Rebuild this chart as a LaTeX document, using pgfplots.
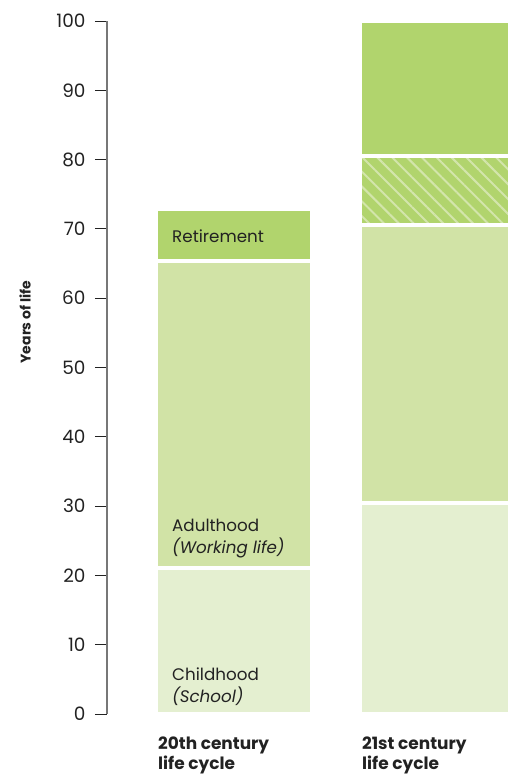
\documentclass[border=0pt]{standalone}
\usepackage{fontspec}
\setmainfont{Poppins}
\usepackage{pgfplots}
\pgfplotsset{compat=1.18}
\usetikzlibrary{patterns.meta}
\definecolor{child}{HTML}{E4EFD0}
\definecolor{adult}{HTML}{D1E3A6}
\definecolor{retire}{HTML}{B1D46D}
\definecolor{stripe}{HTML}{D3E5AB}
\definecolor{axisgray}{HTML}{777777}
\definecolor{txt}{HTML}{222222}
\begin{document}
\begin{tikzpicture}[x=1bp,y=1bp]
\path[use as bounding box] (0,0) rectangle (508,775);
\begin{axis}[
  at={(107bp,61bp)}, anchor=south west,
  scale only axis, width=401bp, height=693bp,
  xmin=107, xmax=508, ymin=0, ymax=100,
  clip=false,
  ybar stacked, bar width=156,
  axis x line=none,
  axis y line=left,
  y axis line style={-, axisgray, line width=1.5bp},
  ytick={0,10,...,100},
  xtick=\empty,
  tick align=outside,
  major tick length=12bp,
  ytick style={txt, line width=0.8bp},
  yticklabel style={font=\fontsize{18.5}{20}\selectfont, text=txt, xshift=-6bp},
  /pgf/number format/assume math mode=true,
]
\addplot[fill=child, draw=white, line width=4bp] coordinates {(234,21) (438,30.5)};
\addplot[fill=adult, draw=white, line width=4bp] coordinates {(234,44.3) (438,40)};
\addplot[fill=retire, draw=white, line width=4bp] coordinates {(234,7.5) (438,0)};
\addplot[preaction={fill=retire}, pattern={Lines[angle=-45, distance=10.5bp, line width=2bp]}, pattern color=stripe, draw=white, line width=4bp] coordinates {(234,0) (438,10)};
\addplot[fill=retire, draw=white, line width=4bp] coordinates {(234,0) (438,19.5)};

\coordinate (ret) at (axis cs:172,68.1);
\coordinate (adu) at (axis cs:172,26.4);
\coordinate (wor) at (axis cs:172,23.2);
\coordinate (chi) at (axis cs:172,4.9);
\coordinate (sch) at (axis cs:172,1.7);
\coordinate (xa) at (axis cs:158,0);
\coordinate (xb) at (axis cs:362,0);
\end{axis}
\begin{scope}[every node/.style={anchor=base west, inner sep=0pt, text=txt}]
\node[font=\fontsize{16.8}{18}\selectfont] at (ret) {Retirement};
\node[font=\fontsize{16.8}{18}\selectfont] at (adu) {Adulthood};
\node[font=\fontsize{16.8}{18}\selectfont\itshape] at (wor) {(Working life)};
\node[font=\fontsize{16.8}{18}\selectfont] at (chi) {Childhood};
\node[font=\fontsize{16.8}{18}\selectfont\itshape] at (sch) {(School)};
\node[font=\bfseries\fontsize{17}{19}\selectfont, yshift=-36bp] at (xa) {20th century};
\node[font=\bfseries\fontsize{17}{19}\selectfont, yshift=-56bp] at (xa) {life cycle};
\node[font=\bfseries\fontsize{17}{19}\selectfont, yshift=-36bp] at (xb) {21st century};
\node[font=\bfseries\fontsize{17}{19}\selectfont, yshift=-56bp] at (xb) {life cycle};
\end{scope}
\node[rotate=90, font=\bfseries\fontsize{14}{16}\selectfont, text=txt] at (25,453) {Years of life};
\end{tikzpicture}
\end{document}
